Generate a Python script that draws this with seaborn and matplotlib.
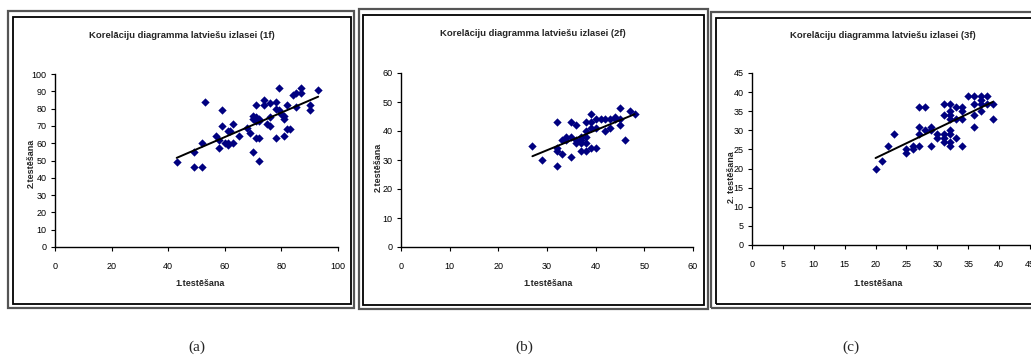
import numpy as np
import pandas as pd
import matplotlib
matplotlib.use("Agg")
import matplotlib.pyplot as plt
import seaborn as sns
from matplotlib.patches import Rectangle

# values
test1_1f = [43, 49, 49, 52, 52, 53, 57, 58, 58, 59, 59, 60, 61, 61, 61, 62, 63, 63, 65,
            68, 69, 70, 70, 70, 71, 71, 71, 71, 72, 72, 72, 72, 74, 74, 75, 76, 76, 76,
            78, 78, 78, 79, 79, 80, 81, 81, 81, 82, 82, 83, 84, 85, 85, 87, 87, 90, 90, 93]
test2_1f = [49, 55, 46, 46, 60, 84, 64, 57, 62, 70, 79, 60, 60, 59, 67, 67, 71, 60, 64,
            69, 66, 76, 55, 74, 82, 63, 75, 73, 73, 63, 50, 74, 85, 82, 71, 83, 75, 70,
            84, 63, 80, 79, 92, 77, 76, 74, 64, 82, 68, 68, 88, 89, 81, 92, 89, 82, 79, 91]

test1_2f = [27, 29, 32, 32, 32, 32, 33, 33, 34, 34, 35, 35, 35, 36, 36, 36, 37, 37, 37,
            37, 38, 38, 38, 38, 38, 39, 39, 39, 39, 40, 40, 40, 41, 42, 42, 43, 43, 44,
            44, 45, 45, 45, 46, 47, 48]
test2_2f = [35, 30, 43, 34, 33, 28, 37, 32, 38, 37, 43, 38, 31, 42, 37, 36, 38, 37, 36,
            33, 43, 40, 38, 36, 33, 46, 43, 41, 34, 44, 41, 34, 44, 44, 40, 44, 41, 45,
            44, 48, 44, 42, 37, 47, 46]

test1_3f = [20, 21, 22, 23, 25, 25, 26, 26, 27, 27, 27, 27, 28, 28, 29, 29, 29, 30, 30,
            31, 31, 31, 31, 31, 32, 32, 32, 32, 32, 32, 32, 32, 33, 33, 33, 34, 34, 34,
            34, 35, 36, 36, 36, 36, 37, 37, 37, 37, 38, 38, 39, 39]
test2_3f = [20, 22, 26, 29, 25, 24, 26, 25, 36, 31, 29, 26, 36, 30, 31, 30, 26, 29, 28,
            37, 34, 29, 28, 27, 37, 35, 34, 33, 30, 29, 27, 26, 36, 33, 28, 36, 35, 33,
            26, 39, 39, 37, 34, 31, 39, 38, 37, 35, 39, 37, 37, 33]

titles = ["Korelāciju diagramma latviešu izlasei (1f)",
          "Korelāciju diagramma latviešu izlasei (2f)",
          "Korelāciju diagramma latviešu izlasei (3f)"]
ylabels = ["2.testēšana", "2.testēšana", "2. testēšana"]
xlabel = "1.testēšana"
captions = ["(a)", "(b)", "(c)"]
axis_max = [100, 60, 45]
tick_step = [(20, 10), (10, 10), (5, 5)]

W, H = 1031, 363


def fx(px):
    return px / W


def fy(py):
    return 1 - py / H


sns.set_style("white")
plt.rcParams['font.family'] = ['Liberation Sans Narrow', 'Liberation Sans', 'DejaVu Sans']

fig = plt.figure(figsize=(W / 100, H / 100), dpi=100)

# panel geometry in pixels: axes box, inner frame, outer frame, title/label positions
axes_px = [(55, 74, 338, 247), (401, 73, 693, 247), (752, 73, 1030, 245)]
inner_px = [(13, 17, 351, 304), (363, 15, 704, 305), (716, 18, 1035, 304)]
outer_px = [(8, 11, 354, 308), (359, 9, 708, 309), (711, 12, 1040, 308)]
title_px = [(182, 35), (533, 33), (883, 35)]
xlab_px = [(200, 284), (548, 284), (878, 284)]
ylab_px = [(31, 163), (378, 167), (731, 177)]
cap_px = [197, 524, 851]

datasets = [(test1_1f, test2_1f), (test1_2f, test2_2f), (test1_3f, test2_3f)]

for i in range(3):
    # frames like the spreadsheet chart area
    x0, y0, x1, y1 = outer_px[i]
    fig.patches.append(Rectangle((fx(x0), fy(y1)), fx(x1) - fx(x0), fy(y0) - fy(y1),
                                 transform=fig.transFigure, fill=False,
                                 edgecolor="#555555", linewidth=1.6))
    x0, y0, x1, y1 = inner_px[i]
    fig.patches.append(Rectangle((fx(x0), fy(y1)), fx(x1) - fx(x0), fy(y0) - fy(y1),
                                 transform=fig.transFigure, fill=False,
                                 edgecolor="black", linewidth=1.3))

    l, t, r, b = axes_px[i]
    ax = fig.add_axes([fx(l), fy(b), fx(r) - fx(l), fy(t) - fy(b)])
    df = pd.DataFrame({"x": datasets[i][0], "y": datasets[i][1]})
    sns.regplot(data=df, x="x", y="y", ax=ax, ci=None, truncate=True, marker="D",
                scatter_kws={"color": "#000080", "s": 18, "linewidths": 0, "alpha": 1},
                line_kws={"color": "black", "linewidth": 1.4})

    top = axis_max[i]
    ax.set_xlim(0, top)
    ax.set_ylim(0, top)
    ax.set_xticks(np.arange(0, top + 0.1, tick_step[i][0]))
    ax.set_yticks(np.arange(0, top + 0.1, tick_step[i][1]))
    ax.set_xlabel("")
    ax.set_ylabel("")
    ax.tick_params(axis="both", direction="out", length=3, width=0.8, labelsize=6.5,
                   colors="black", bottom=True, left=True)
    ax.tick_params(axis="x", pad=8)
    ax.tick_params(axis="y", pad=3)
    sns.despine(ax=ax)
    for s in ["left", "bottom"]:
        ax.spines[s].set_color("black")
        ax.spines[s].set_linewidth(1.0)
    ax.set_facecolor("white")
    ax.patch.set_alpha(0)

    tx, ty = title_px[i]
    fig.text(fx(tx), fy(ty), titles[i], ha="center", va="center",
             fontsize=6.8, fontweight="bold")
    lx, ly = xlab_px[i]
    fig.text(fx(lx), fy(ly), xlabel, ha="center", va="center",
             fontsize=6.5, fontweight="bold")
    yx, yy = ylab_px[i]
    fig.text(fx(yx), fy(yy), ylabels[i], ha="center", va="center", rotation=90,
             fontsize=6.5, fontweight="bold")
    fig.text(fx(cap_px[i]), fy(347), captions[i], ha="center", va="center",
             fontsize=11, family=["Liberation Serif", "DejaVu Serif"])

fig.savefig("out.png", dpi=100, facecolor="white")
